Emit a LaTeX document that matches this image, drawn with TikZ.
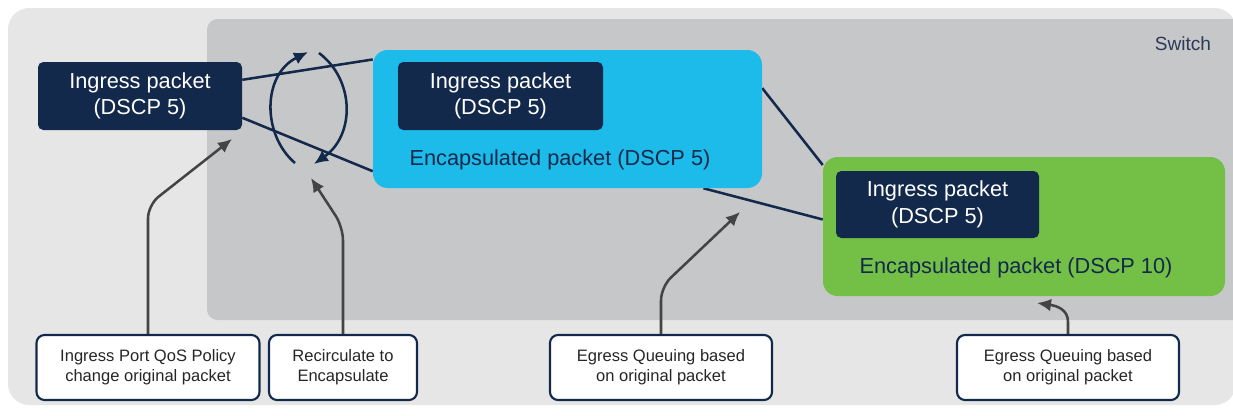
\documentclass[tikz,border=0pt]{standalone}
\usepackage{fontspec}
\setmainfont{Liberation Sans}
\usetikzlibrary{arrows.meta,calc}
\definecolor{navy}{HTML}{13294B}
\definecolor{cblue}{HTML}{1DBBEA}
\definecolor{cgreen}{HTML}{74BF46}
\definecolor{swgray}{HTML}{C6C7C9}
\definecolor{outgray}{HTML}{E6E6E7}
\definecolor{argray}{HTML}{444444}
\definecolor{swtext}{HTML}{2B3A55}
\pgfdeclarelayer{back}
\pgfdeclarelayer{mid}
\pgfsetlayers{back,mid,main}
\tikzset{
  pkt/.style={fill=navy, rounded corners=4pt, text=white, align=center,
    font=\fontsize{16.3}{20}\selectfont, inner sep=0pt},
  encbox/.style={rounded corners=11pt, inner sep=0pt},
  enctext/.style={text=navy, font=\fontsize{16.3}{20}\selectfont, inner sep=0pt},
  note/.style={draw=navy, line width=1.6pt, fill=white, rounded corners=6pt,
    align=center, font=\fontsize{12.4}{15}\selectfont, text=black!85,
    minimum height=48.75pt, inner sep=0pt},
  link/.style={draw=navy, line width=1.9pt},
  loop/.style={draw=navy, line width=1.9pt, -{Latex[length=10.5pt,width=9.5pt]}},
  garrow/.style={draw=argray, line width=1.9pt, -{Latex[length=10.5pt,width=9.5pt]}, rounded corners=10pt},
}
\begin{document}
\begin{tikzpicture}[x=0.75pt,y=-0.75pt]
\useasboundingbox (0,0) rectangle (1233,415);
\begin{pgfonlayer}{back}
\fill[white] (0,0) rectangle (1233,415);
\fill[outgray, rounded corners=16pt] (8,8) rectangle (1236,405);
\fill[swgray, rounded corners=8pt] (207,19) rectangle (1260,320);
\end{pgfonlayer}
\node[text=swtext, font=\fontsize{14.3}{17}\selectfont] (sw) at (1183,44) {Switch};
% ingress packet
\node[pkt, minimum width=153pt, minimum height=51pt] (ing1) at (140,96) {Ingress packet\\(DSCP 5)};
% blue encapsulated
\node[encbox, fill=cblue, minimum width=291.75pt, minimum height=103.5pt] (blue) at (567.5,119) {};
\node[pkt, minimum width=153.75pt, minimum height=51pt] (ing2) at (500.5,96) {Ingress packet\\(DSCP 5)};
\node[enctext] (enc1) at (560,160) {Encapsulated packet (DSCP 5)};
% green encapsulated
\node[encbox, fill=cgreen, minimum width=301.5pt, minimum height=104.25pt] (green) at (1024,226.5) {};
\node[pkt, minimum width=152.25pt, minimum height=50.25pt] (ing3) at (937.5,204.5) {Ingress packet\\(DSCP 5)};
\node[enctext] (enc2) at (1016,268) {Encapsulated packet (DSCP 10)};
% notes
\node[note, minimum width=167.25pt] (b1) at (148,367.5) {Ingress Port QoS Policy\\change original packet};
\node[note, minimum width=111pt] (b2) at (343,367.5) {Recirculate to\\Encapsulate};
\node[note, minimum width=166.5pt] (b3) at (661,367.5) {Egress Queuing based\\on original packet};
\node[note, minimum width=166.5pt] (b4) at (1068,367.5) {Egress Queuing based\\on original packet};
% links
\begin{pgfonlayer}{mid}
\draw[link] (ing1.9) -- (blue.163);
\draw[link] (ing1.-12) -- (blue.195);
\draw[link] (blue.9) -- (green.163);
\draw[link] (blue.-27.5) -- (green.178);
\end{pgfonlayer}
% recirculation loop
\coordinate (c1) at (295,163);
\coordinate (c2) at (308,52);
\coordinate (c3) at (319,53);
\coordinate (c4) at (314,164);
\draw[loop] (c1) .. controls (262,135) and (262,75) .. (c2);
\draw[loop] (c3) .. controls (355,80) and (355,135) .. (c4);
% grey pointers
\coordinate (t1) at (232,139);
\coordinate (t2) at (311,178);
\coordinate (t3) at (740,212);
\coordinate (t4) at (1037,303);
\draw[garrow] (b1.north) -- (148,205) -- (t1);
\draw[garrow] (b2.north) -- (343,227) -- (t2);
\draw[garrow] (b3.north) -- (661,287) -- (t3);
\draw[garrow, rounded corners=0pt] (b4.north) -- (1068,322) .. controls (1068,310) and (1058,306) .. (t4);
\end{tikzpicture}
\end{document}
